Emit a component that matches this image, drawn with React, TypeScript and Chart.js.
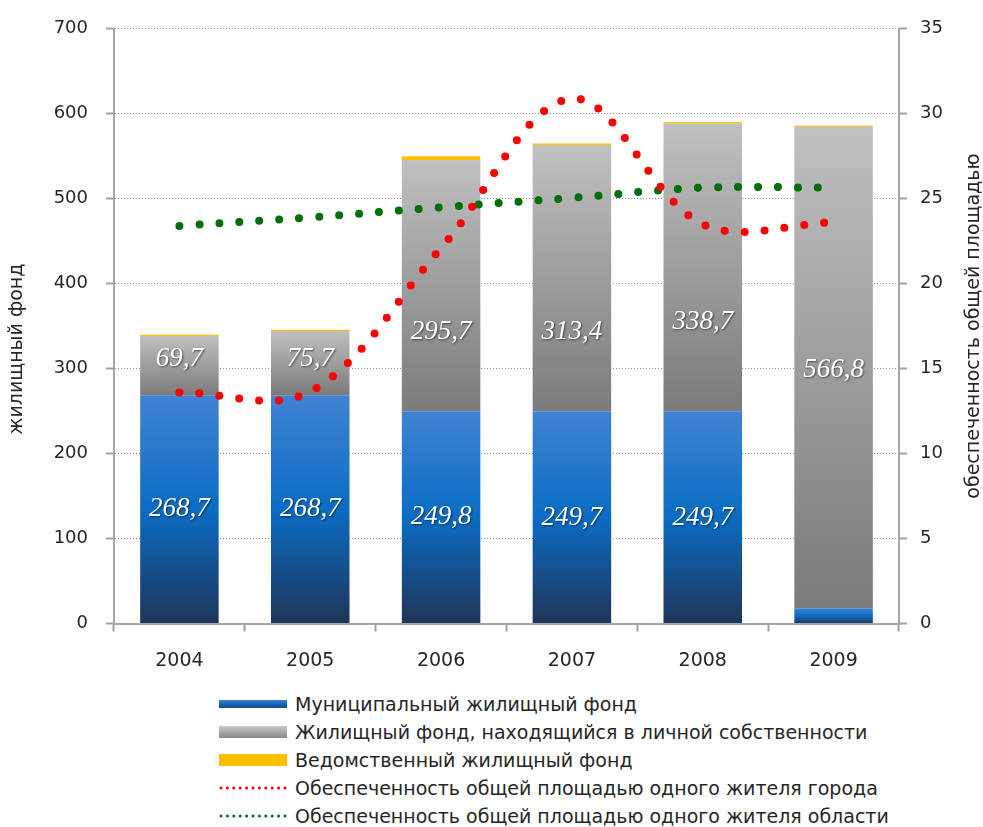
import React, { useEffect, useRef } from 'react';
import { Chart, registerables } from 'chart.js';

Chart.register(...registerables);

const categories = ['2004', '2005', '2006', '2007', '2008', '2009'];
const municipal = [268.7, 268.7, 249.8, 249.7, 249.7, 18];
const privateFund = [69.7, 75.7, 295.7, 313.4, 338.7, 566.8];
const departmental = [1.5, 1.5, 4.5, 2, 2, 1.5];
const cityProvision = [13.6, 13.65, 22.1, 30.9, 23.5, 23.6];
const regionProvision = [23.4, 23.9, 24.5, 25.05, 25.65, 25.65];
const municipalLabels = ['268,7', '268,7', '249,8', '249,7', '249,7', ''];
const privateLabels = ['69,7', '75,7', '295,7', '313,4', '338,7', '566,8'];
const privateLabelAt = [311, 311, 343, 343, 355, 299];
const leftTicks = [0, 100, 200, 300, 400, 500, 600, 700];
const rightTicks = [0, 5, 10, 15, 20, 25, 30, 35];

const seriesNames = [
  'Муниципальный жилищный фонд',
  'Жилищный фонд, находящийся в личной собственности',
  'Ведомственный жилищный фонд',
  'Обеспеченность общей площадью одного жителя города',
  'Обеспеченность общей площадью одного жителя области',
];
const leftTitle = 'жилищный фонд';
const rightTitle = 'обеспеченность общей площадью';

const FONT = '"DejaVu Sans", Verdana, sans-serif';
const TEXT = '#262626';

export default function App() {
  const ref = useRef<HTMLCanvasElement | null>(null);

  useEffect(() => {
    const canvas = ref.current;
    if (!canvas) return;
    const stacks = [municipal, privateFund, departmental];
    const solids = ['#0b6dc5', '#a0a0a0', '#ffc000'];
    const stops: (Array<[number, string]> | null)[] = [
      [[0, '#4084d3'], [0.5, '#0b6cc4'], [1, '#1f3558']],
      [[0, '#c0c0c0'], [1, '#7b7b7b']],
      null,
    ];
    const barFill = (k: number) => (c: any) => {
      const chart = c.chart;
      if (c.type !== 'data' || !chart.chartArea || !stops[k]) return solids[k];
      const i = c.dataIndex;
      let base = 0;
      for (let j = 0; j < k; j++) base += stacks[j][i];
      const top = base + stacks[k][i];
      const ys = chart.scales.y;
      const y0 = ys.getPixelForValue(top);
      const y1 = ys.getPixelForValue(base);
      const g = chart.ctx.createLinearGradient(0, y0, 0, y1);
      (stops[k] as Array<[number, string]>).forEach(([o, col]) => g.addColorStop(o, col));
      return g;
    };

    const labelPlugin = {
      id: 'barLabels',
      afterDatasetsDraw(chart: any) {
        const ctx = chart.ctx;
        const xs = chart.scales.x;
        const ys = chart.scales.y;
        ctx.save();
        ctx.font = 'italic 27px "Liberation Serif", "DejaVu Serif", serif';
        ctx.fillStyle = '#ffffff';
        ctx.textAlign = 'center';
        ctx.textBaseline = 'middle';
        ctx.shadowColor = 'rgba(0,0,0,0.55)';
        ctx.shadowBlur = 2;
        ctx.shadowOffsetX = 1;
        ctx.shadowOffsetY = 1;
        categories.forEach((_, i) => {
          const cx = xs.getPixelForValue(i);
          if (municipalLabels[i]) {
            ctx.fillText(municipalLabels[i], cx, ys.getPixelForValue(municipal[i] / 2));
          }
          if (privateLabels[i]) {
            ctx.fillText(privateLabels[i], cx, ys.getPixelForValue(privateLabelAt[i]));
          }
        });
        ctx.restore();
      },
    };

    const titlePlugin = {
      id: 'axisTitles',
      afterDraw(chart: any) {
        const ctx = chart.ctx;
        const area = chart.chartArea;
        const mid = (area.top + area.bottom) / 2;
        ctx.save();
        ctx.font = `19px ${FONT}`;
        ctx.fillStyle = TEXT;
        ctx.textAlign = 'center';
        ctx.textBaseline = 'middle';
        ctx.save();
        ctx.translate(17, mid + 23);
        ctx.rotate(-Math.PI / 2);
        ctx.fillText(leftTitle, 0, 0);
        ctx.restore();
        ctx.save();
        ctx.translate(chart.width - 9, mid);
        ctx.rotate(-Math.PI / 2);
        ctx.fillText(rightTitle, 0, 0);
        ctx.restore();
        ctx.restore();
      },
    };

    const lineBase = {
      type: 'line',
      yAxisID: 'y1',
      borderWidth: 8,
      borderDash: [0, 20],
      borderCapStyle: 'round',
      pointRadius: 0,
      tension: 0.35,
      fill: false,
      order: 0,
    };

    const barBase = {
      yAxisID: 'y',
      stack: 's',
      borderWidth: 0,
      barPercentage: 0.6,
      categoryPercentage: 1,
      order: 1,
    };

    const chart = new Chart(canvas, {
      type: 'bar',
      data: {
        labels: categories,
        datasets: [
          { ...lineBase, label: seriesNames[3], data: cityProvision, borderColor: '#ff0000', backgroundColor: '#ff0000' } as any,
          { ...lineBase, label: seriesNames[4], data: regionProvision, borderColor: '#006e0a', backgroundColor: '#006e0a' } as any,
          { ...barBase, label: seriesNames[0], data: municipal, backgroundColor: barFill(0) } as any,
          { ...barBase, label: seriesNames[1], data: privateFund, backgroundColor: barFill(1) } as any,
          { ...barBase, label: seriesNames[2], data: departmental, backgroundColor: barFill(2) } as any,
        ],
      },
      options: {
        responsive: false,
        devicePixelRatio: 1,
        animation: false,
        layout: { padding: { top: 24, left: 0, right: 0, bottom: 0 } },
        plugins: {
          legend: { display: false },
          tooltip: { enabled: false },
        },
        scales: {
          x: {
            stacked: true,
            offset: true,
            grid: {
              offset: true,
              drawOnChartArea: false,
              drawTicks: true,
              tickLength: 8,
              tickColor: '#a0a0a0',
              tickWidth: 2,
            },
            border: { color: '#a6a6a6', width: 2 },
            ticks: { color: TEXT, font: { family: FONT, size: 19 }, padding: 18 },
            afterFit: (s: any) => {
              s.height = 56.5;
            },
          },
          y: {
            stacked: true,
            position: 'left',
            min: 0,
            max: 700,
            afterBuildTicks: (s: any) => {
              s.ticks = leftTicks.map((v) => ({ value: v }));
            },
            grid: {
              color: '#8c8c8c',
              lineWidth: 1,
              tickLength: 8,
              tickColor: '#a0a0a0',
              tickWidth: 2,
              tickBorderDash: [],
            },
            border: { color: '#a6a6a6', width: 2, dash: [1, 2] },
            ticks: { color: TEXT, font: { family: FONT, size: 18 }, padding: 18 },
            afterFit: (s: any) => {
              s.width = 114;
            },
          },
          y1: {
            position: 'right',
            min: 0,
            max: 35,
            afterBuildTicks: (s: any) => {
              s.ticks = rightTicks.map((v) => ({ value: v }));
            },
            grid: {
              drawOnChartArea: false,
              tickLength: 8,
              tickColor: '#a0a0a0',
              tickWidth: 2,
            },
            border: { color: '#a6a6a6', width: 2 },
            ticks: { color: TEXT, font: { family: FONT, size: 18 }, padding: 13 },
            afterFit: (s: any) => {
              s.width = 84;
            },
          },
        },
      } as any,
      plugins: [labelPlugin, titlePlugin],
    });
    return () => chart.destroy();
  }, []);

  const sample = (i: number) => {
    if (i === 0)
      return <div style={{ width: 68, height: 8, background: 'linear-gradient(#3f83d2, #0b64b8 55%, #1f4a80)' }} />;
    if (i === 1)
      return <div style={{ width: 68, height: 12, background: 'linear-gradient(#c8c8c8, #8a8a8a)' }} />;
    if (i === 2) return <div style={{ width: 68, height: 12, background: '#ffc000' }} />;
    const col = i === 3 ? '#ff0000' : '#006e0a';
    return (
      <svg width={68} height={6} style={{ display: 'block' }}>
        <line x1={2} y1={3} x2={68} y2={3} stroke={col} strokeWidth={3} strokeDasharray="0 6.4" strokeLinecap="round" />
      </svg>
    );
  };

  return (
    <div style={{ position: 'absolute', left: 0, top: 0, width: 983, height: 827, background: '#ffffff', overflow: 'hidden' }}>
      <canvas ref={ref} width={983} height={680} style={{ position: 'absolute', left: 0, top: 0 }} />
      <div style={{ position: 'absolute', left: 219, top: 690, fontFamily: FONT, fontSize: 19, color: TEXT }}>
        {seriesNames.map((n, i) => (
          <div key={i} style={{ display: 'flex', alignItems: 'center', height: 28, whiteSpace: 'nowrap' }}>
            <div style={{ width: 68, display: 'flex', alignItems: 'center' }}>{sample(i)}</div>
            <span style={{ marginLeft: 8 }}>{n}</span>
          </div>
        ))}
      </div>
    </div>
  );
}
